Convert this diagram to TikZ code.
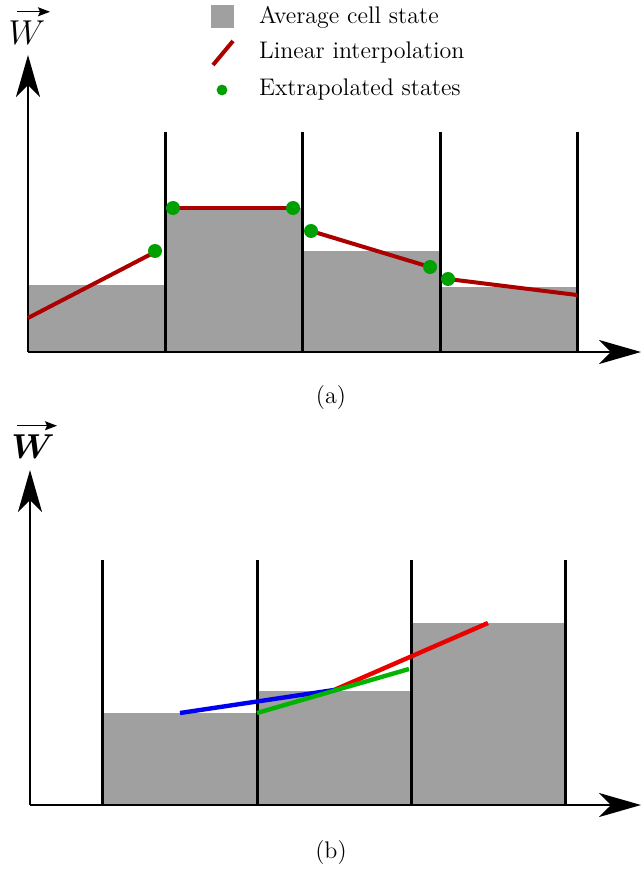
\documentclass[tikz,border=0pt]{standalone}
\usepackage{amsmath}
\usepackage{amssymb}
\usepackage{bm}
\usepackage{xcolor}
\usetikzlibrary{arrows.meta}
\definecolor{DarkRed}{RGB}{170,0,0}
\definecolor{CellGray}{RGB}{160,160,160}
\definecolor{DotGreen}{RGB}{0,160,0}
\definecolor{SlopeGreen}{RGB}{0,180,0}
\definecolor{SlopeRed}{RGB}{235,0,0}
\definecolor{SlopeBlue}{RGB}{0,0,240}
\tikzset{
	axis/.style={line width=1.3pt, -{Stealth[length=21pt, width=12pt, inset=6pt]}},
	wall/.style={line width=1.5pt},
	cell/.style={fill=CellGray},
	recon/.style={line width=2pt, DarkRed},
	slope/.style={line width=2.2pt},
	dot/.style={fill=DotGreen},
	statelabel/.style={font=\LARGE, inner sep=0pt},
	vecarrow/.style={line width=0.6pt, -{Stealth[length=6pt, width=4.5pt, inset=1pt]}}
}
\begin{document}
\begin{tikzpicture}[x=0.5pt, y=-0.5pt, font=\large]
	\useasboundingbox (0,0) rectangle (643,871);
	% legend
	\fill[CellGray] (211,5) rectangle (234,28);
	\node[anchor=west] (legcell) at (252,17) {Average cell state};
	\draw[recon] (213,65) -- (233,41);
	\node[anchor=west] (legline) at (252,53) {Linear interpolation};
	\fill[dot] (222,90) circle (2.7pt);
	\node[anchor=west] (legdot) at (252,90) {Extrapolated states};
	% (a) cell averages
	\fill[cell] (28,285) rectangle (165,352);
	\fill[cell] (165,208) rectangle (302,352);
	\fill[cell] (302,251) rectangle (440,352);
	\fill[cell] (440,287) rectangle (577,352);
	\foreach \x in {165,302,440,577}
		\draw[wall] (\x,132) -- (\x,352);
	\draw[axis] (28,352) -- (641,352);
	\draw[axis] (28,352) -- (28,55);
	\node[statelabel] (wa) at (27,33) {$W$};
	\draw[vecarrow] ([xshift=-5pt, yshift=4.5pt]wa.north) -- ([xshift=11.5pt, yshift=4.5pt]wa.north);
	% (a) reconstruction
	\draw[recon] (28,318) -- (157,251);
	\draw[recon] (173,208) -- (293,208);
	\draw[recon] (311,231) -- (430,267);
	\draw[recon] (448,279) -- (577,295);
	\foreach \x/\y in {155/251, 173/208, 293/208, 311/231, 430/267, 448/279}
		\fill[dot] (\x,\y) circle (3.5pt);
	\node (capa) at (331,398) {(a)};
	% (b) cell averages
	\fill[cell] (102,713) rectangle (257,805);
	\fill[cell] (257,691) rectangle (411,805);
	\fill[cell] (411,623) rectangle (565,805);
	\foreach \x in {102,257,411,565}
		\draw[wall] (\x,560) -- (\x,805);
	\draw[axis] (30,805) -- (641,805);
	\draw[axis] (30,805) -- (30,470);
	\node[statelabel] (wb) at (33,447) {$\boldsymbol{W}$};
	\draw[vecarrow] ([xshift=-8pt, yshift=4.5pt]wb.north) -- ([xshift=12pt, yshift=4.5pt]wb.north);
	% (b) slopes
	\draw[slope, SlopeBlue] (180,713) -- (334,690);
	\draw[slope, SlopeRed] (334,690) -- (488,623);
	\draw[slope, SlopeGreen] (257,713) -- (409,669);
	\node (capb) at (331,853) {(b)};
\end{tikzpicture}
\end{document}
